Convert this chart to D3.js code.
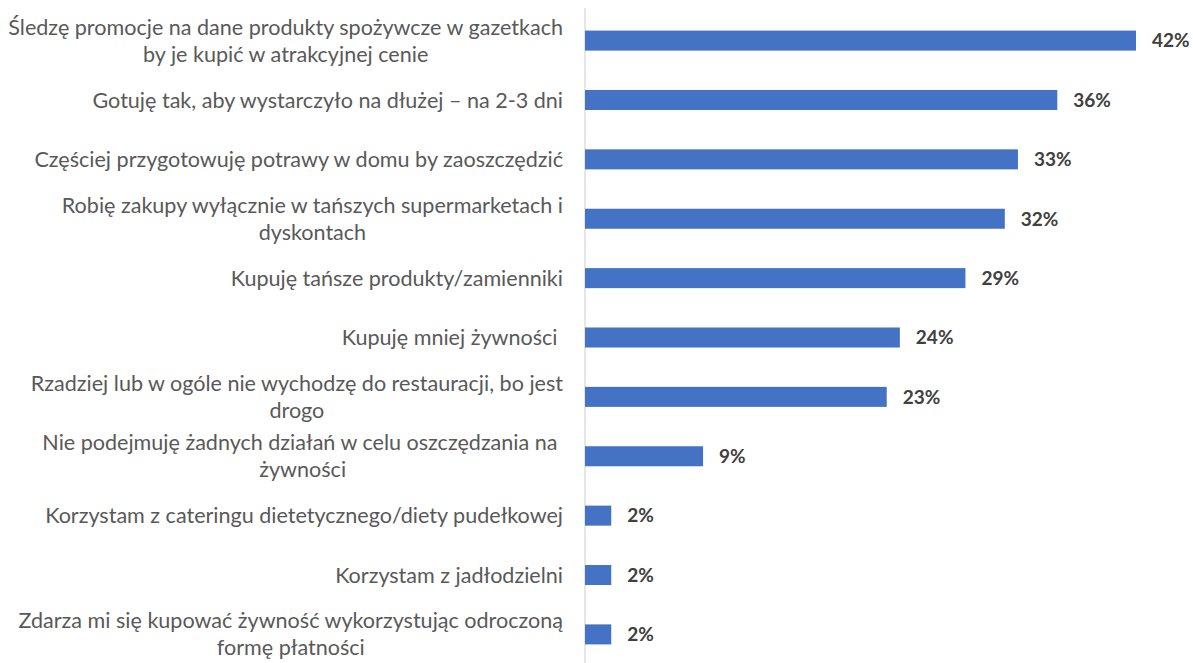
<!DOCTYPE html>
<html lang="pl">
<head>
<meta charset="UTF-8">
<script src="https://d3js.org/d3.v7.min.js"></script>
<style>
    body { margin: 0; background: #fff; }
    text { font-family: 'Lato', 'Liberation Sans', sans-serif; white-space: pre; }
</style>
</head>
<body>
<svg id="chart" width="1193" height="663"></svg>
<script>
// categories (lines as wrapped in the original) and values in %
let labels = [
    ['Śledzę promocje na dane produkty spożywcze w gazetkach', 'by je kupić w atrakcyjnej cenie'],
    ['Gotuję tak, aby wystarczyło na dłużej – na 2-3 dni'],
    ['Częściej przygotowuję potrawy w domu by zaoszczędzić'],
    ['Robię zakupy wyłącznie w tańszych supermarketach i', 'dyskontach'],
    ['Kupuję tańsze produkty/zamienniki'],
    ['Kupuję mniej żywności '],
    ['Rzadziej lub w ogóle nie wychodzę do restauracji, bo jest', 'drogo'],
    ['Nie podejmuję żadnych działań w celu oszczędzania na ', 'żywności'],
    ['Korzystam z cateringu dietetycznego/diety pudełkowej'],
    ['Korzystam z jadłodzielni'],
    ['Zdarza mi się kupować żywność wykorzystując odroczoną', 'formę płatności']
]
let values = [42, 36, 33, 32, 29, 24, 23, 9, 2, 2, 2]
let valueLabels = ['42%', '36%', '33%', '32%', '29%', '24%', '23%', '9%', '2%', '2%', '2%']

let svg = d3.select('#chart')

let x = d3.scaleLinear().domain([0, 42]).range([585, 1136])
let y = d3.scaleBand().domain(d3.range(values.length)).range([11, 664]).paddingInner(0.663).paddingOuter(0.33)

// vertical category axis line
svg.append('line')
    .attr('x1', x(0)).attr('x2', x(0))
    .attr('y1', 8).attr('y2', 663)
    .attr('stroke', '#d9d9d9')
    .attr('stroke-width', 1.3)

svg.selectAll('rect.bar')
    .data(values)
    .enter()
    .append('rect')
    .attr('class', 'bar')
    .attr('x', x(0))
    .attr('y', (d, i) => y(i))
    .attr('width', d => x(d) - x(0))
    .attr('height', y.bandwidth())
    .attr('fill', '#4472c4')

svg.selectAll('text.value')
    .data(values)
    .enter()
    .append('text')
    .attr('class', 'value')
    .attr('x', d => x(d) + 16)
    .attr('y', (d, i) => y(i) + y.bandwidth() / 2)
    .attr('dy', '0.36em')
    .attr('font-size', 19)
    .attr('font-weight', 'bold')
    .attr('fill', '#404040')
    .text((d, i) => valueLabels[i])

// category labels: each block right-aligned at the axis, its lines centred
let labelRight = 563
let lineH = 27
let fontSize = 18

let groups = svg.selectAll('g.label')
    .data(labels)
    .enter()
    .append('g')
    .attr('class', 'label')

groups.each(function (lines, i) {
    let g = d3.select(this)
    let cy = y(i) + y.bandwidth() / 2
    lines.forEach((line, j) => {
        g.append('text')
            .attr('y', cy + (j - (lines.length - 1) / 2) * lineH)
            .attr('dy', '0.35em')
            .attr('font-size', fontSize)
            .attr('fill', '#595959')
            .attr('text-anchor', 'middle')
            .text(line)
    })
})

// fit font so the widest label line matches the original width (~555px)
let w0 = groups.filter((d, i) => i === 0).select('text').node().getComputedTextLength()
let k = 555 / w0
groups.selectAll('text').attr('font-size', fontSize * k)

groups.each(function () {
    let g = d3.select(this)
    let maxW = d3.max(g.selectAll('text').nodes(), n => n.getComputedTextLength())
    g.selectAll('text').attr('x', labelRight - maxW / 2)
})
</script>
</body>
</html>
